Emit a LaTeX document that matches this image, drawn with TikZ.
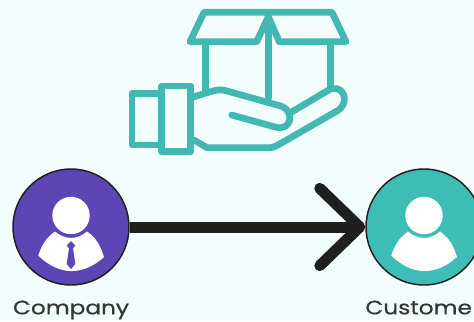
\documentclass[tikz,border=0pt]{standalone}
\usepackage{fontspec}
\setmainfont{Poppins}[FakeStretch=1.2, FakeBold=0.6]
\usetikzlibrary{arrows.meta,positioning}
\definecolor{bgmint}{HTML}{F3FDFD}
\definecolor{boxteal}{HTML}{41B8B2}
\definecolor{custteal}{HTML}{3DBDB6}
\definecolor{compurple}{HTML}{5E45B5}
\definecolor{inkblack}{HTML}{1F1F1D}
\begin{document}
\begin{tikzpicture}[x=0.75pt, y=-0.75pt,
  icon/.style={draw=boxteal, line width=5pt, line join=round, line cap=round},
  person/.style={circle, draw=inkblack, line width=1.1pt, minimum size=87pt, inner sep=0pt},
  caption/.style={font=\fontsize{14.5pt}{16pt}\selectfont, text=inkblack!90, inner sep=0pt}]
  \useasboundingbox[fill=bgmint] (0,0) rectangle (474,321);
  % box
  \draw[icon] (190,41.7) -- (204,12.3) -- (332,12.3) -- (346,41.7) -- (279.3,41.7) -- (268.3,16.7) -- (256.7,41.7) -- cycle;
  \draw[icon] (268.3,17) -- (268.3,98);
  \draw[icon] (205.3,41.7) -- (205.3,90);
  \draw[icon] (330.7,41.7) -- (330.7,87);
  % hand
  \draw[icon] (132,93.5) rectangle (161.7,145);
  \draw[icon] (161.7,86) rectangle (190.7,151.7);
  \draw[icon] (194,96.7) -- (213,91) .. controls (218,89.5) and (222,89.5) .. (227,91) -- (279,105.5) .. controls (296,110) and (292,132) .. (275,127) -- (231.7,115);
  \draw[icon] (194,140) -- (207,147.7) -- (268,147.7) .. controls (272,147.7) and (275,147) .. (278,145) -- (337,111) .. controls (352,102) and (342,81) .. (327,91) -- (290,113);
  % people
  \node[person, fill=compurple] (company) at (71,227) {};
  \node[person, fill=custteal] (customer) at (424,227) {};
  \foreach \cx in {71,424} {
    \fill[white] (\cx,215.5) circle (18.7);
    \fill[white] (\cx-32.7,255.5) .. controls (\cx-29,244) and (\cx-24,237) .. (\cx-16,231.5) .. controls (\cx-6,240) and (\cx+6,240) .. (\cx+16,231.5) .. controls (\cx+24,237) and (\cx+29,244) .. (\cx+33,257) .. controls (\cx+12,276) and (\cx-12,276) .. (\cx-32.7,255.5) -- cycle;
  }
  \fill[compurple] (71,241) -- (75.3,245.3) -- (73,248.3) -- (75.3,264) -- (71,269) -- (66.7,264) -- (69,248.3) -- (66.7,245.3) -- cycle;
  % link
  \draw[inkblack, line width=8.25pt, -{Straight Barb[round, length=30pt, width=58pt]}] (company) -- (customer);
  \node[caption, below=11pt of company] (companylabel) {Company};
  \node[caption, below=11pt of customer, xshift=-4pt] (customerlabel) {Custome};
\end{tikzpicture}
\end{document}
